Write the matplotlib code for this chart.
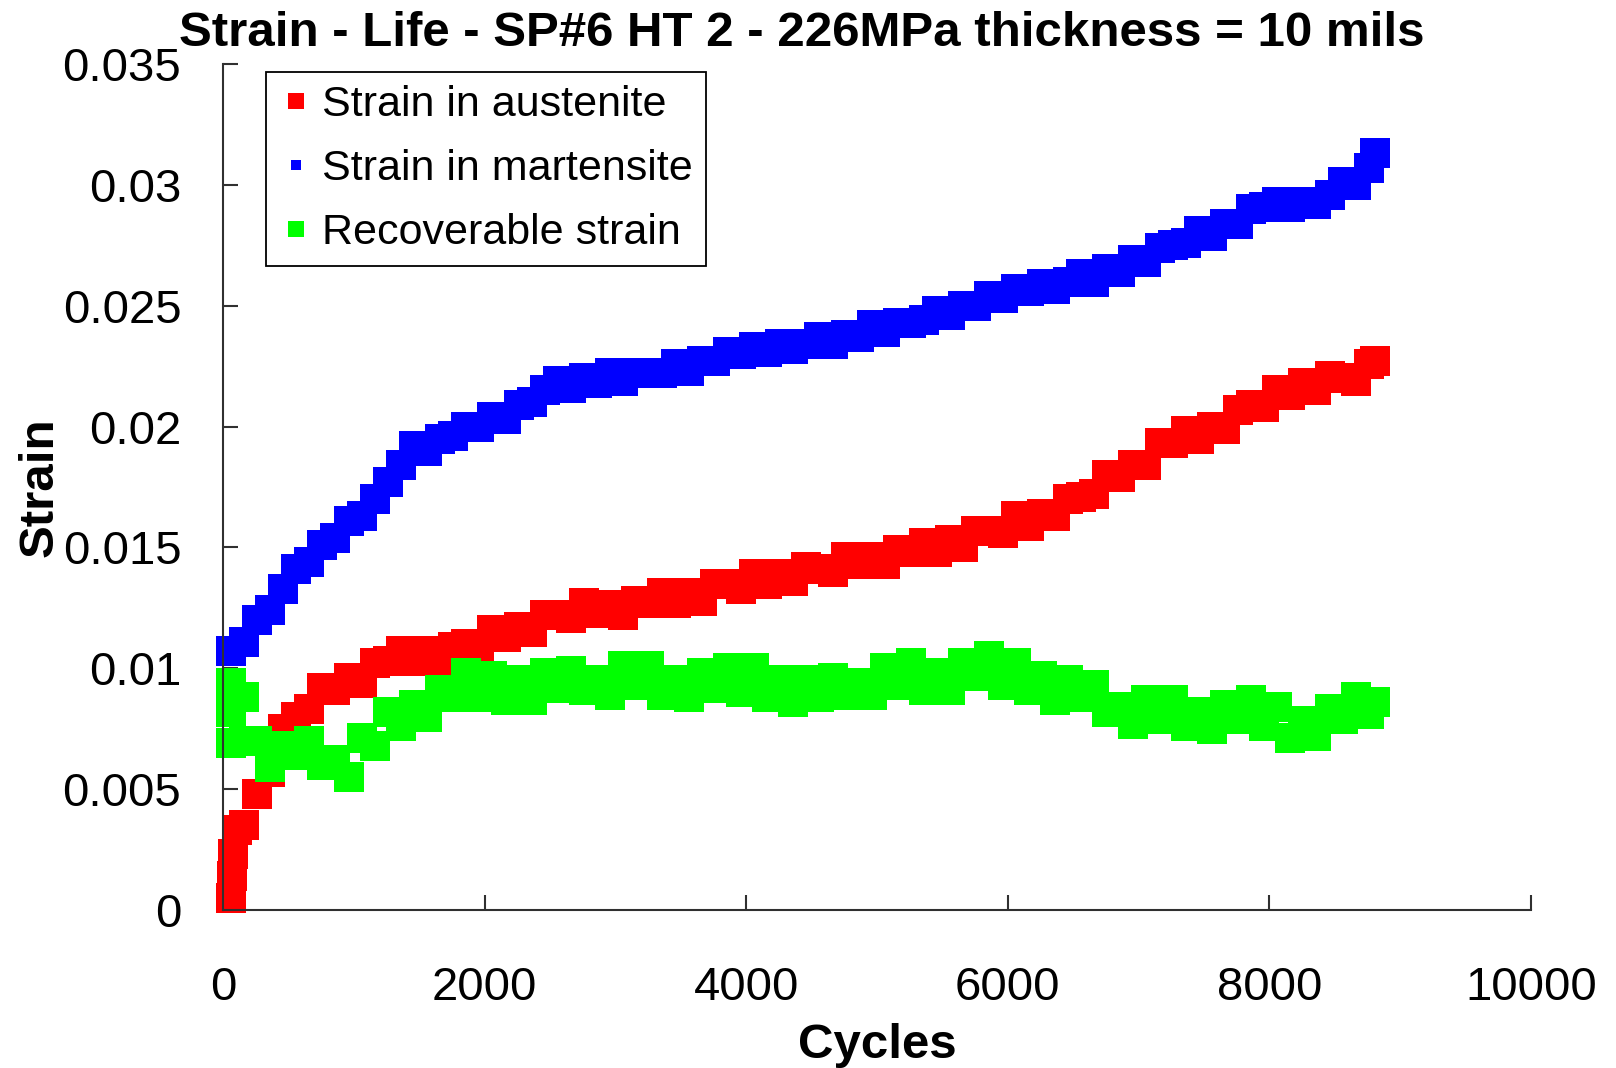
import matplotlib
matplotlib.use("Agg")
import matplotlib.pyplot as plt
from matplotlib.lines import Line2D

plt.rcParams['font.family'] = ['Liberation Sans', 'DejaVu Sans']

# cycle grid shared by the three series
cycles = [60, 160, 260, 360, 460, 560, 660, 760, 860, 960,
          1060, 1160, 1260, 1360, 1460, 1560, 1660, 1760, 1860, 1960,
          2060, 2160, 2260, 2360, 2460, 2560, 2660, 2760, 2860, 2960,
          3060, 3160, 3260, 3360, 3460, 3560, 3660, 3760, 3860, 3960,
          4060, 4160, 4260, 4360, 4460, 4560, 4660, 4760, 4860, 4960,
          5060, 5160, 5260, 5360, 5460, 5560, 5660, 5760, 5860, 5960,
          6060, 6160, 6260, 6360, 6460, 6560, 6660, 6760, 6860, 6960,
          7060, 7160, 7260, 7360, 7460, 7560, 7660, 7760, 7860, 7960,
          8060, 8160, 8260, 8360, 8460, 8560, 8660, 8760, 8810]

austenite = [0.0005, 0.0035, 0.0048, 0.0057, 0.0075, 0.0080, 0.0083, 0.0092, 0.0091, 0.0096,
             0.0094, 0.0102, 0.0103, 0.0107, 0.0103, 0.0107, 0.0103, 0.0109, 0.0110, 0.0109,
             0.0116, 0.0113, 0.0117, 0.0115, 0.0122, 0.0122, 0.0121, 0.0127, 0.0123, 0.0126,
             0.0122, 0.0128, 0.0127, 0.0131, 0.0127, 0.0131, 0.0128, 0.0135, 0.0135, 0.0133,
             0.0139, 0.0135, 0.0139, 0.0136, 0.0142, 0.0141, 0.0140, 0.0146, 0.0143, 0.0146,
             0.0143, 0.0149, 0.0148, 0.0152, 0.0148, 0.0153, 0.0150, 0.0157, 0.0157, 0.0156,
             0.0163, 0.0159, 0.0164, 0.0163, 0.0170, 0.0171, 0.0172, 0.0180, 0.0179, 0.0184,
             0.0184, 0.0193, 0.0193, 0.0198, 0.0195, 0.0200, 0.0199, 0.0207, 0.0209, 0.0208,
             0.0215, 0.0213, 0.0218, 0.0215, 0.0221, 0.0220, 0.0219, 0.0226, 0.0227]

martensite = [0.0107, 0.0111, 0.0120, 0.0124, 0.0133, 0.0141, 0.0144, 0.0151, 0.0154, 0.0161,
              0.0163, 0.0170, 0.0177, 0.0184, 0.0192, 0.0190, 0.0195, 0.0196, 0.0200, 0.0200,
              0.0204, 0.0203, 0.0209, 0.0210, 0.0215, 0.0219, 0.0216, 0.0220, 0.0218, 0.0222,
              0.0219, 0.0222, 0.0222, 0.0222, 0.0226, 0.0223, 0.0227, 0.0227, 0.0231, 0.0230,
              0.0233, 0.0231, 0.0234, 0.0232, 0.0234, 0.0237, 0.0234, 0.0238, 0.0237, 0.0242,
              0.0239, 0.0243, 0.0243, 0.0244, 0.0248, 0.0246, 0.0250, 0.0250, 0.0254, 0.0253,
              0.0257, 0.0256, 0.0259, 0.0257, 0.0260, 0.0263, 0.0260, 0.0265, 0.0264, 0.0269,
              0.0268, 0.0274, 0.0275, 0.0276, 0.0281, 0.0279, 0.0284, 0.0284, 0.0290, 0.0291,
              0.0293, 0.0291, 0.0293, 0.0292, 0.0296, 0.0301, 0.0300, 0.0307, 0.0313]

recoverable = [0.0082, 0.0070, 0.0070, 0.0059, 0.0068, 0.0064, 0.0070, 0.0060, 0.0062, 0.0055,
               0.0071, 0.0068, 0.0082, 0.0076, 0.0085, 0.0080, 0.0091, 0.0088, 0.0098, 0.0088,
               0.0097, 0.0087, 0.0095, 0.0087, 0.0098, 0.0092, 0.0099, 0.0091, 0.0095, 0.0089,
               0.0101, 0.0093, 0.0101, 0.0089, 0.0095, 0.0088, 0.0098, 0.0092, 0.0100, 0.0090,
               0.0100, 0.0088, 0.0095, 0.0086, 0.0095, 0.0088, 0.0096, 0.0089, 0.0094, 0.0089,
               0.0100, 0.0093, 0.0102, 0.0091, 0.0098, 0.0091, 0.0102, 0.0097, 0.0105, 0.0093,
               0.0102, 0.0091, 0.0097, 0.0087, 0.0095, 0.0088, 0.0093, 0.0082, 0.0084, 0.0077,
               0.0087, 0.0079, 0.0087, 0.0076, 0.0082, 0.0075, 0.0085, 0.0079, 0.0087, 0.0076,
               0.0084, 0.0071, 0.0078, 0.0072, 0.0083, 0.0079, 0.0088, 0.0081, 0.0086]

# the first few cycles, where the curves are nearly vertical
austenite_start_cycles = [70, 80, 110]
austenite_start = [0.0014, 0.0023, 0.0033]
recoverable_start_cycles = [60, 60, 160]
recoverable_start = [0.0069, 0.0094, 0.0088]

series_names = ["Strain in austenite", "Strain in martensite", "Recoverable strain"]
xticks = [0, 2000, 4000, 6000, 8000, 10000]
yticks = [0, 0.005, 0.01, 0.015, 0.02, 0.025, 0.03, 0.035]
ytick_labels = ["0", "0.005", "0.01", "0.015", "0.02", "0.025", "0.03", "0.035"]

RED = "#ff0000"
BLUE = "#0000ff"
GREEN = "#00ff00"

fig = plt.figure(figsize=(16.16, 10.68), dpi=100)
ax = fig.add_axes([223 / 1616, 1 - 910 / 1068, (1531 - 223) / 1616, (910 - 64) / 1068])

ms = 21.6
ax.plot(cycles + austenite_start_cycles, austenite + austenite_start, 's', color=RED,
        ms=ms, mew=0, clip_on=False)
ax.plot(cycles, martensite, 's', color=BLUE, ms=ms, mew=0, clip_on=False)
ax.plot(cycles + recoverable_start_cycles, recoverable + recoverable_start, 's', color=GREEN,
        ms=ms, mew=0, clip_on=False)

ax.set_xlim(0, 10000)
ax.set_ylim(0, 0.035)
ax.set_xticks(xticks)
ax.set_xticklabels([str(t) for t in xticks])
ax.set_yticks(yticks)
ax.set_yticklabels(ytick_labels)

for s in ["top", "right"]:
    ax.spines[s].set_visible(False)
for s in ["left", "bottom"]:
    ax.spines[s].set_linewidth(1.5)
    ax.spines[s].set_color("#303030")

ax.tick_params(axis="both", direction="in", length=11, width=1.5, color="#303030",
               labelsize=34)
ax.tick_params(axis="x", pad=40)
ax.tick_params(axis="y", pad=30)

ax.set_xlabel("Cycles", fontsize=35.5, fontweight="bold", labelpad=10)
ax.set_ylabel("Strain", fontsize=35.5, fontweight="bold", labelpad=0)

fig.text(0.496, 1 - 46 / 1068, "Strain - Life - SP#6 HT 2 - 226MPa thickness = 10 mils",
         ha="center", va="baseline", fontsize=35.5, fontweight="bold")

handles = [
    Line2D([], [], marker="s", ls="none", color=RED, ms=11.5, mew=0),
    Line2D([], [], marker="s", ls="none", color=BLUE, ms=7.2, mew=0),
    Line2D([], [], marker="s", ls="none", color=GREEN, ms=11.5, mew=0),
]
leg = fig.legend(handles, series_names, loc="upper left",
                 bbox_to_anchor=(266 / 1616, 1 - 72 / 1068), borderaxespad=0,
                 fontsize=31, frameon=True, fancybox=False, framealpha=1,
                 edgecolor="black", handlelength=0.8, handletextpad=0.2,
                 labelspacing=0.56, borderpad=0.3)
leg.get_frame().set_linewidth(1.3)

fig.savefig("out.png", dpi=100)
